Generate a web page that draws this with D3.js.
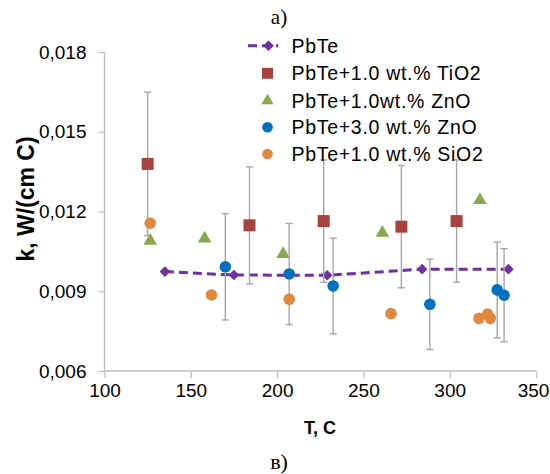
<!DOCTYPE html>
<html><head><meta charset="utf-8">
<script src="https://cdn.jsdelivr.net/npm/d3@7"></script>
<style>body{margin:0;background:#fff}svg{display:block}</style>
</head><body>
<svg id="c" width="550" height="474"></svg>
<script>
const xTicks = [100,150,200,250,300,350];
const yTicks = [0.006,0.009,0.012,0.015,0.018];
const yTickLabels = ["0,006","0,009","0,012","0,015","0,018"];

const pbteT = [135,175,229,284,334];
const pbteK = [0.00974,0.00961,0.0096,0.00983,0.00983];

const tio2T = [125,184,227,272,304];
const tio2K = [0.01379,0.01148,0.01164,0.01143,0.01164];
const tio2Err = [0.0027,0.0022,0.0023,0.0023,0.0023];

const zno1T = [126.5,158,203.5,261,317.5];
const zno1K = [0.0109,0.01098,0.0104,0.0112,0.01243];

const zno3T = [170,207,232.5,288.5,327.5,331.5];
const zno3K = [0.00992,0.00965,0.0092,0.00851,0.00905,0.00885];
const zno3Err = [0.002,0.0019,0.0018,0.0017,0.0018,0.00175];

const sio2T = [126.5,162,207,266,317,322,323.5];
const sio2K = [0.01156,0.00886,0.0087,0.00816,0.00798,0.00814,0.00798];

const legendLabels = ["PbTe","PbTe+1.0 wt.% TiO2","PbTe+1.0wt.% ZnO","PbTe+3.0 wt.% ZnO","PbTe+1.0 wt.% SiO2"];

const C = {pbte:"#7030A0", tio2:"#A8423F", zno1:"#8BA84E", zno3:"#0070C0", sio2:"#E2883E", err:"#A6A6A6", axis:"#BFBFBF"};

const svg = d3.select("#c");
const L=104.5, R=536, T=52, B=371;
const x = d3.scaleLinear().domain([100,350]).range([L,R]);
const y = d3.scaleLinear().domain([0.006,0.018]).range([B,T]);

// axes
const xa = svg.append("g").attr("transform",`translate(0,${B})`)
  .call(d3.axisBottom(x).tickValues(xTicks).tickSize(7).tickPadding(6).tickFormat(d3.format("d")));
const ya = svg.append("g").attr("transform",`translate(${L},0)`)
  .call(d3.axisLeft(y).tickValues(yTicks).tickSize(6).tickPadding(12).tickFormat((d,i)=>yTickLabels[i]));
[xa,ya].forEach(a=>{
  a.selectAll("path,line").attr("stroke",C.axis).attr("stroke-width",1.3);
  a.selectAll("text").attr("font-family","Liberation Sans, Arial, sans-serif").attr("font-size",19).attr("fill","#000");
});
xa.select(".domain").attr("d",`M${L},0H${R}`);
ya.select(".domain").attr("d",`M0,${B}V${T}`);
xa.selectAll(".tick text").filter(d=>d===350).attr("dx",-3);

// titles
svg.append("text").attr("x",279).attr("y",24).attr("text-anchor","middle")
  .attr("font-family","Liberation Serif, Times New Roman, serif").attr("font-size",21).text("a)");
svg.append("text").attr("x",279).attr("y",469).attr("text-anchor","middle")
  .attr("font-family","Liberation Serif, Times New Roman, serif").attr("font-size",22).text("в)");
svg.append("text").attr("x",320).attr("y",434).attr("text-anchor","middle")
  .attr("font-family","Liberation Sans, Arial, sans-serif").attr("font-weight","bold").attr("font-size",18).text("T, C");
svg.append("text").attr("transform","translate(34,199) rotate(-90)").attr("text-anchor","middle")
  .attr("font-family","Liberation Sans, Arial, sans-serif").attr("font-weight","bold").attr("font-size",23).text("k, W/(cm C)");

const plot = svg.append("g");

// PbTe line
plot.append("path").datum(pbteT.map((t,i)=>[t,pbteK[i]]))
  .attr("d",d3.line().x(d=>x(d[0])).y(d=>y(d[1])))
  .attr("fill","none").attr("stroke",C.pbte).attr("stroke-width",3).attr("stroke-dasharray","9,5");
const diamond = d3.symbol().type(d3.symbolDiamond2).size(72);
plot.selectAll(".pb").data(pbteT).join("path")
  .attr("transform",(d,i)=>`translate(${x(d)},${y(pbteK[i])})`).attr("d",diamond).attr("fill",C.pbte);

function errBars(Ts,Ks,Es){
  const g = plot.append("g").attr("stroke",C.err).attr("stroke-width",1.4);
  Ts.forEach((t,i)=>{
    const cx=x(t), y1=y(Ks[i]+Es[i]), y2=y(Ks[i]-Es[i]);
    g.append("line").attr("x1",cx).attr("x2",cx).attr("y1",y1).attr("y2",y2);
    g.append("line").attr("x1",cx-3.5).attr("x2",cx+3.5).attr("y1",y1).attr("y2",y1);
    g.append("line").attr("x1",cx-3.5).attr("x2",cx+3.5).attr("y1",y2).attr("y2",y2);
  });
}

// TiO2
errBars(tio2T,tio2K,tio2Err);
plot.selectAll(".ti").data(tio2T).join("rect")
  .attr("x",d=>x(d)-6).attr("y",(d,i)=>y(tio2K[i])-6).attr("width",12).attr("height",12).attr("fill",C.tio2);

// ZnO 1.0
const tri = d3.symbol().type(d3.symbolTriangle).size(80);
plot.selectAll(".zn1").data(zno1T).join("path")
  .attr("transform",(d,i)=>`translate(${x(d)},${y(zno1K[i])})`).attr("d",tri).attr("fill",C.zno1);

// ZnO 3.0
errBars(zno3T,zno3K,zno3Err);
plot.selectAll(".zn3").data(zno3T).join("circle")
  .attr("cx",d=>x(d)).attr("cy",(d,i)=>y(zno3K[i])).attr("r",5.8).attr("fill",C.zno3);

// SiO2
plot.selectAll(".si").data(sio2T).join("circle")
  .attr("cx",d=>x(d)).attr("cy",(d,i)=>y(sio2K[i])).attr("r",5.8).attr("fill",C.sio2);

// legend
const rows=[45.7,73.3,100.7,127.3,154];
const lg = svg.append("g");
legendLabels.forEach((lab,i)=>{
  lg.append("text").attr("x",291.5).attr("y",rows[i]).attr("dy","0.35em")
    .attr("font-family","Liberation Sans, Arial, sans-serif").attr("font-size",19.5).attr("letter-spacing",0.7).text(lab);
});
lg.append("line").attr("x1",248).attr("x2",278).attr("y1",rows[0]).attr("y2",rows[0])
  .attr("stroke",C.pbte).attr("stroke-width",3).attr("stroke-dasharray","9,5");
lg.append("path").attr("transform",`translate(268.5,${rows[0]})`).attr("d",diamond).attr("fill",C.pbte);
lg.append("rect").attr("x",262).attr("y",rows[1]-5.5).attr("width",11).attr("height",11).attr("fill",C.tio2);
lg.append("path").attr("transform",`translate(267.5,${rows[2]})`).attr("d",d3.symbol().type(d3.symbolTriangle).size(65)()).attr("fill",C.zno1);
lg.append("circle").attr("cx",267.5).attr("cy",rows[3]).attr("r",5.3).attr("fill",C.zno3);
lg.append("circle").attr("cx",267.5).attr("cy",rows[4]).attr("r",5.3).attr("fill",C.sio2);
</script>
</body></html>
